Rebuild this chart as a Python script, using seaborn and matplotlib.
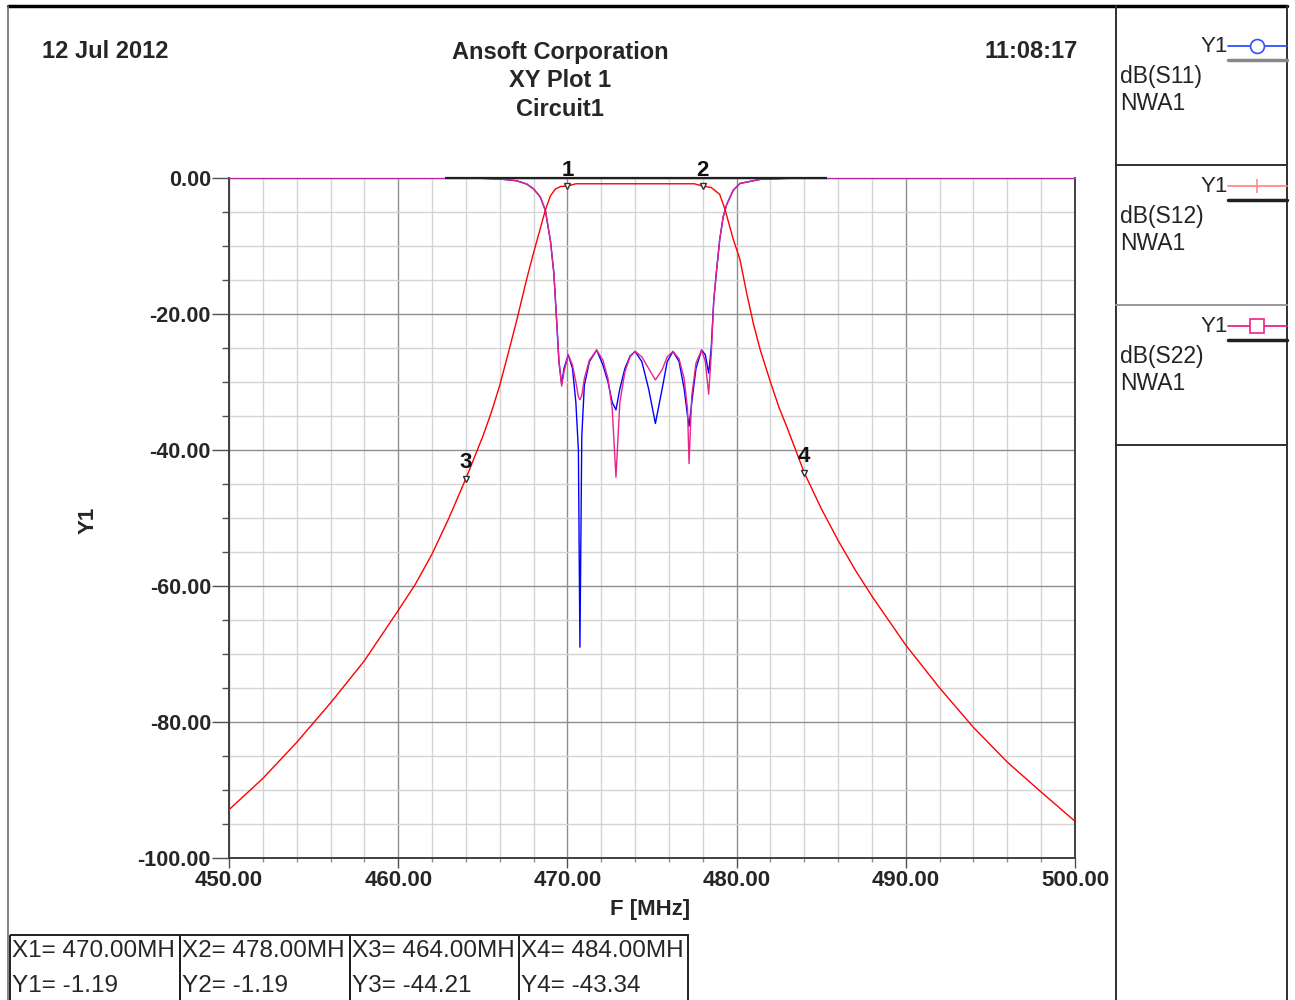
import numpy as np
import pandas as pd
import matplotlib
matplotlib.use("Agg")
import matplotlib.pyplot as plt
from matplotlib.patches import Rectangle
import seaborn as sns

# ---------------- data ----------------
freq_s12 = [450, 452, 454, 456, 458, 460, 461, 462, 463, 464, 465, 465.5, 466, 466.5,
            467, 467.6, 468.0, 468.4, 468.7, 469.0, 469.3, 469.6, 470, 470.5, 472,
            474, 476, 477.5, 478, 478.5, 479, 479.3, 479.8, 480.2, 480.6, 481.0,
            481.4, 482.0, 482.5, 483.0, 484, 485, 486, 487, 488, 490, 492, 494,
            496, 498, 500]
s12_db = [-92.9, -88.3, -83.0, -77.2, -71.0, -63.6, -59.8, -55.3, -50.0, -44.21,
          -38.0, -34.5, -30.5, -25.8, -21.0, -14.8, -11.0, -7.4, -4.7, -2.6, -1.6,
          -1.25, -1.19, -0.85, -0.85, -0.85, -0.85, -0.85, -1.19, -1.4, -2.4, -4.5,
          -9.0, -12.0, -17.0, -21.5, -25.3, -30.0, -33.7, -36.8, -43.34, -48.6,
          -53.3, -57.6, -61.5, -68.7, -75.0, -80.8, -85.9, -90.3, -94.6]

freq_refl = [450, 460, 464, 465, 466, 467, 467.6, 468.0, 468.4, 468.7, 469.0, 469.2,
             469.4, 469.5, 469.66, 469.8, 470.05, 470.3, 470.5, 470.65, 470.74,
             470.85, 471.0, 471.3, 471.73, 472.1, 472.4, 472.65, 472.87, 473.1,
             473.4, 473.7, 474.0, 474.4, 474.8, 475.2, 475.6, 475.9, 476.24, 476.6,
             476.9, 477.1, 477.19, 477.35, 477.6, 477.93, 478.15, 478.35, 478.5,
             478.65, 478.82, 479.0, 479.2, 479.4, 479.8, 480.2, 481.4, 483, 486, 500]
s22_db = [0, 0, -0.02, -0.05, -0.15, -0.4, -0.9, -1.6, -2.8, -4.8, -9.3, -14.0,
          -22.5, -27.0, -30.6, -28.5, -26.0, -27.5, -30.0, -32.2, -32.6,
          -32.0, -29.5, -26.8, -25.3, -26.8, -29.5, -34.0, -44.0, -33.0,
          -28.5, -26.3, -25.5, -26.3, -28.0, -29.7, -28.2, -26.3, -25.5, -26.6,
          -29.5, -34.0, -42.0, -32.0, -27.2, -25.3, -27.0, -31.8, -26.0,
          -18.0, -13.5, -9.1, -5.8, -4.0, -1.8, -0.8, -0.2, -0.05, 0, 0]
s11_db = [0, 0, -0.02, -0.05, -0.15, -0.4, -0.9, -1.6, -2.8, -4.8, -9.3, -14.0,
          -22.5, -27.0, -30.3, -28.0, -26.0, -28.0, -33.0, -40.0, -69.0,
          -38.0, -30.5, -27.0, -25.3, -27.5, -30.0, -33.0, -34.1, -31.0,
          -28.0, -26.2, -25.5, -27.0, -31.0, -36.1, -31.0, -27.0, -25.5, -27.0,
          -31.0, -35.0, -36.5, -33.0, -28.0, -25.3, -26.0, -28.7, -25.0,
          -18.0, -13.5, -9.1, -5.8, -4.0, -1.8, -0.8, -0.2, -0.05, 0, 0]

marker_ids = ["1", "2", "3", "4"]
marker_freq = [470.00, 478.00, 464.00, 484.00]
marker_val = [-1.19, -1.19, -44.21, -43.34]

zero_segment = [462.77, 485.32]

x_ticks = [450, 460, 470, 480, 490, 500]
y_ticks = [-100, -80, -60, -40, -20, 0]

header_left = "12 Jul 2012"
header_center = ["Ansoft Corporation", "XY Plot 1", "Circuit1"]
header_right = "11:08:17"
trace_names = ["dB(S11)", "dB(S12)", "dB(S22)"]
trace_colors = ["#0000ff", "#ff0000", "#e8238c"]
legend_line_colors = ["#3050ff", "#ff8a8a", "#e8238c"]

# ---------------- style ----------------
sns.set_style("white")
plt.rcParams['font.family'] = ['Liberation Sans', 'DejaVu Sans']

fig = plt.figure(figsize=(12.95, 10), dpi=100)
W, H = 1295, 1000
ax = fig.add_axes([229 / W, 1 - 858 / H, 846 / W, 680 / H])

df11 = pd.DataFrame({"F": freq_refl, "dB": s11_db})
df22 = pd.DataFrame({"F": freq_refl, "dB": s22_db})
df12 = pd.DataFrame({"F": freq_s12, "dB": s12_db})

sns.lineplot(data=df11, x="F", y="dB", color=trace_colors[0], lw=1.0,
             estimator=None, sort=False, ax=ax, zorder=3)
sns.lineplot(data=df22, x="F", y="dB", color=trace_colors[2], lw=1.0,
             estimator=None, sort=False, ax=ax, zorder=4)
sns.lineplot(data=df12, x="F", y="dB", color=trace_colors[1], lw=1.0,
             estimator=None, sort=False, ax=ax, zorder=5)
ax.hlines(0, zero_segment[0], zero_segment[1], color="#202020", lw=1.6, zorder=5.5,
          clip_on=False)

ax.set_xlim(450, 500)
ax.set_ylim(-100, 0)
ax.set_xticks(x_ticks)
ax.set_xticks(np.arange(450, 501, 2), minor=True)
ax.set_yticks(y_ticks)
ax.set_yticks(np.arange(-100, 1, 5), minor=True)
ax.set_xticklabels([f"{v:.2f}" for v in x_ticks], fontsize=16, fontweight="bold")
ax.set_yticklabels([f"{v:.2f}" for v in y_ticks], fontsize=15.5, fontweight="bold")
ax.grid(which="major", color="#8e8e8e", lw=1.0, zorder=0)
ax.grid(which="minor", color="#d4d4d4", lw=1.0, zorder=0)
ax.set_axisbelow(True)
ax.tick_params(axis="y", which="major", direction="out", length=12, width=1,
               color="#505050", pad=1, left=True)
ax.tick_params(axis="y", which="minor", direction="out", length=5, width=1,
               color="#505050", left=True)
ax.tick_params(axis="x", which="major", direction="out", length=7, width=1,
               color="#505050", pad=2, bottom=True)
ax.tick_params(axis="x", which="minor", direction="out", length=3, width=1,
               color="#909090", bottom=True)
for s in ["left", "bottom", "right"]:
    ax.spines[s].set_color("#404040")
    ax.spines[s].set_linewidth(1.4)
ax.spines["top"].set_color("#8e8e8e")
ax.spines["top"].set_linewidth(1.0)
ax.set_xlabel("")
ax.set_ylabel("")

# markers
for mid, mf, mv in zip(marker_ids, marker_freq, marker_val):
    ax.plot([mf], [mv], marker="v", ms=5, mfc="white", mec="#303030", mew=1.0,
            zorder=6, clip_on=False)
    ax.annotate(mid, (mf, mv), xytext=(0, 4), textcoords="offset points",
                ha="center", va="bottom", fontsize=16, fontweight="bold",
                color="#111111", zorder=7, annotation_clip=False)

# ---------------- overlay in pixel coordinates ----------------
ov = fig.add_axes([0, 0, 1, 1], zorder=-1)
ov.set_xlim(0, W)
ov.set_ylim(H, 0)
ov.axis("off")

# frames
ov.plot([8, 1287], [6, 6], color="black", lw=2.5)
ov.plot([8, 8], [6, 1000], color="#707070", lw=1.2)
ov.plot([1116, 1116], [6, 1000], color="#303030", lw=1.4)
ov.plot([1287, 1287], [6, 1000], color="#303030", lw=1.4)
for yy, c in zip([165, 305, 445], ["#303030", "#999999", "#303030"]):
    ov.plot([1116, 1287], [yy, yy], color=c, lw=1.4)

# header
ov.text(42, 52, header_left, fontsize=17, fontweight="bold", ha="left", va="center")
for i, t in enumerate(header_center):
    ov.text(560, 52 + 28.5 * i, t, fontsize=17, fontweight="bold", ha="center", va="center")
ov.text(1078, 52, header_right, fontsize=17, fontweight="bold", ha="right", va="center")

# axis labels
ov.text(88, 520, "Y1", fontsize=16, fontweight="bold", rotation=90, ha="center", va="center")
ov.text(650, 910, "F [MHz]", fontsize=16, fontweight="bold", ha="center", va="center")

# legend panel
leg_markers = ["o", "|", "s"]
under_colors = ["#888888", "#202020", "#202020"]
for i, (name, lc, mk) in enumerate(zip(trace_names, legend_line_colors, leg_markers)):
    y0 = 46 + 140 * i
    ov.text(1228, y0, "Y1", fontsize=16, ha="right", va="center")
    ov.plot([1228, 1287], [y0, y0], color=lc, lw=1.3)
    ov.plot([1257], [y0], marker=mk, ms=10, mfc="white" if mk != "|" else lc,
            mec=lc, mew=1.2, color=lc)
    ov.plot([1228, 1287], [y0 + 14, y0 + 14], color=under_colors[i], lw=2.5)
    ov.text(1120, y0 + 30, name, fontsize=16.5, ha="left", va="center", color="#222222")
    ov.text(1120, y0 + 57, "NWA1", fontsize=16.5, ha="left", va="center", color="#222222")

# marker table (text is cut off at "MH" in the original)
col_edges = [10, 180, 350, 519, 688]
for i, (mid, mf, mv) in enumerate(zip(marker_ids, marker_freq, marker_val)):
    x0, x1 = col_edges[i], col_edges[i + 1]
    rect = Rectangle((x0, 935), x1 - x0, 70, fill=False, ec="#202020", lw=1.4)
    ov.add_patch(rect)
    ov.text(x0 + 2, 951, f"X{mid}= {mf:.2f}MH", fontsize=17.5, ha="left", va="center")
    ov.text(x0 + 2, 986, f"Y{mid}= {mv:.2f}", fontsize=17.5, ha="left", va="center")

fig.savefig("out.png", dpi=100)
